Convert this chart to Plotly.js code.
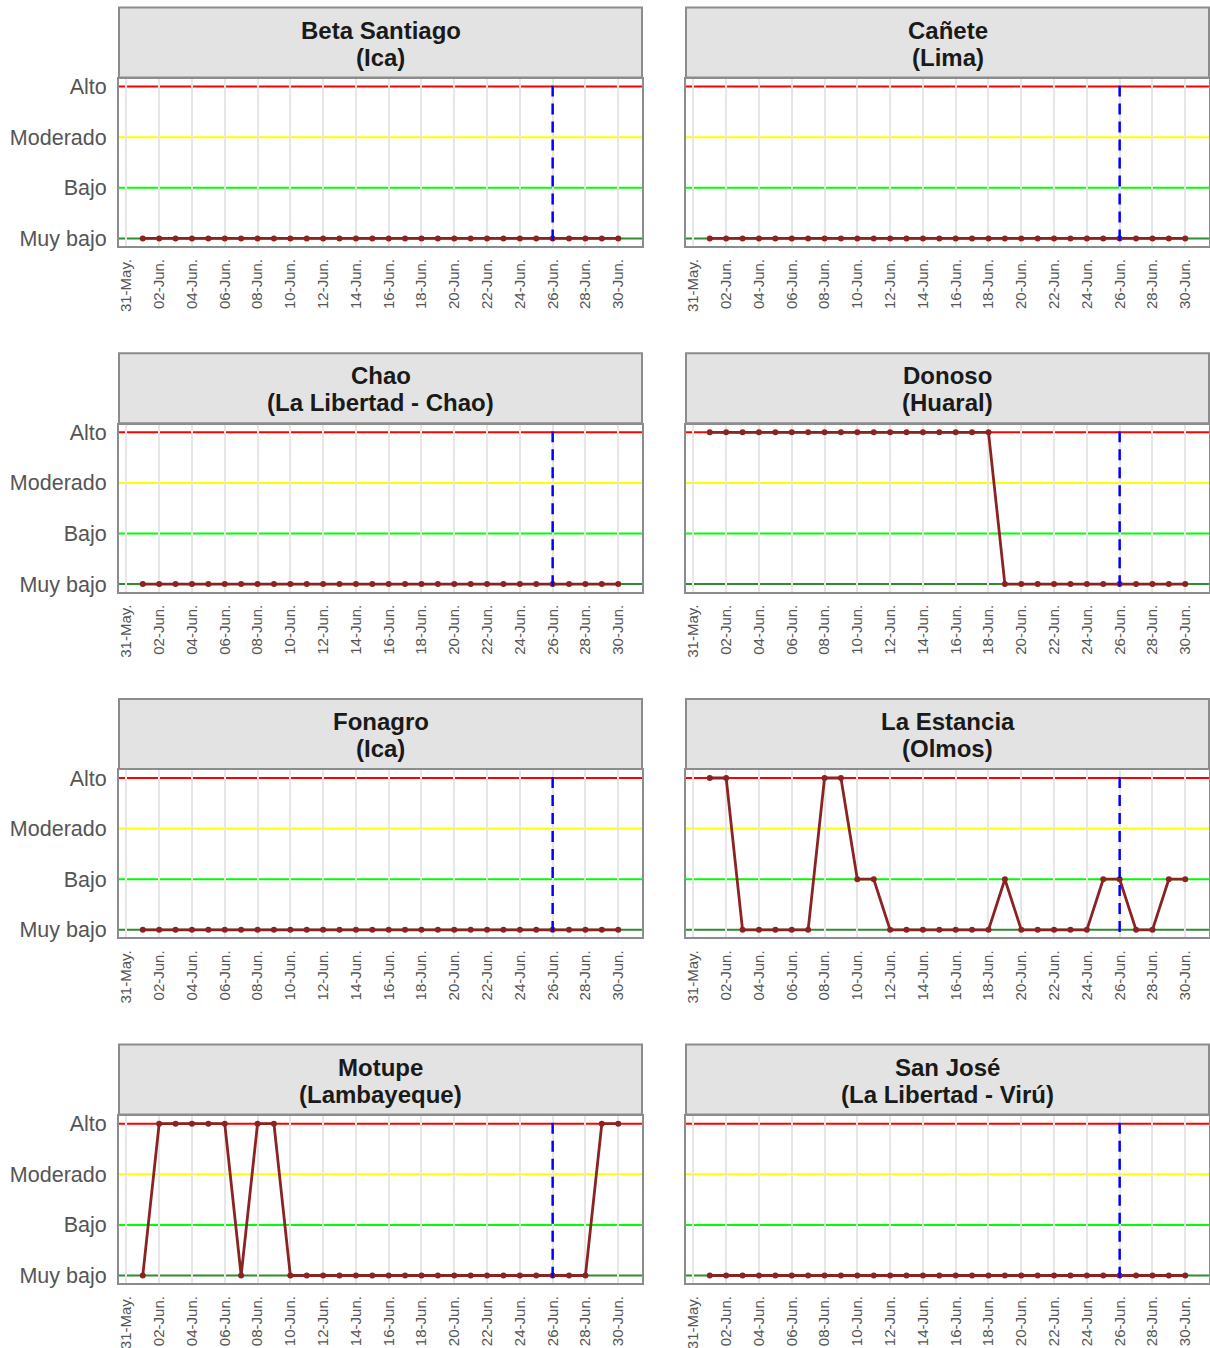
<!DOCTYPE html>
<html>
<head>
<meta charset="utf-8">
<script src="https://cdn.plot.ly/plotly-3.0.1.min.js"></script>
<style>html,body{margin:0;padding:0;background:#fff;}#chart{width:1210px;height:1348px;}</style>
</head>
<body>
<div id="chart"></div>
<script>
// ---- data ----
const dates = ['2025-06-01','2025-06-02','2025-06-03','2025-06-04','2025-06-05','2025-06-06','2025-06-07','2025-06-08','2025-06-09','2025-06-10',
  '2025-06-11','2025-06-12','2025-06-13','2025-06-14','2025-06-15','2025-06-16','2025-06-17','2025-06-18','2025-06-19','2025-06-20',
  '2025-06-21','2025-06-22','2025-06-23','2025-06-24','2025-06-25','2025-06-26','2025-06-27','2025-06-28','2025-06-29','2025-06-30'];
const levelLabels = ['Muy bajo','Bajo','Moderado','Alto'];
const levelValues = [1,2,3,4];
const tickDates = ['2025-05-31','2025-06-02','2025-06-04','2025-06-06','2025-06-08','2025-06-10','2025-06-12','2025-06-14',
  '2025-06-16','2025-06-18','2025-06-20','2025-06-22','2025-06-24','2025-06-26','2025-06-28','2025-06-30'];
const tickLabels = ['31-May.','02-Jun.','04-Jun.','06-Jun.','08-Jun.','10-Jun.','12-Jun.','14-Jun.',
  '16-Jun.','18-Jun.','20-Jun.','22-Jun.','24-Jun.','26-Jun.','28-Jun.','30-Jun.'];
const panelNames   = ['Beta Santiago','Cañete','Chao','Donoso','Fonagro','La Estancia','Motupe','San José'];
const panelRegions = ['(Ica)','(Lima)','(La Libertad - Chao)','(Huaral)','(Ica)','(Olmos)','(Lambayeque)','(La Libertad - Virú)'];
const betaSantiago = [1,1,1,1,1,1,1,1,1,1,1,1,1,1,1,1,1,1,1,1,1,1,1,1,1,1,1,1,1,1];
const canete       = [1,1,1,1,1,1,1,1,1,1,1,1,1,1,1,1,1,1,1,1,1,1,1,1,1,1,1,1,1,1];
const chao         = [1,1,1,1,1,1,1,1,1,1,1,1,1,1,1,1,1,1,1,1,1,1,1,1,1,1,1,1,1,1];
const donoso       = [4,4,4,4,4,4,4,4,4,4,4,4,4,4,4,4,4,4,1,1,1,1,1,1,1,1,1,1,1,1];
const fonagro      = [1,1,1,1,1,1,1,1,1,1,1,1,1,1,1,1,1,1,1,1,1,1,1,1,1,1,1,1,1,1];
const laEstancia   = [4,4,1,1,1,1,1,4,4,2,2,1,1,1,1,1,1,1,2,1,1,1,1,1,2,2,1,1,2,2];
const motupe       = [1,4,4,4,4,4,1,4,4,1,1,1,1,1,1,1,1,1,1,1,1,1,1,1,1,1,1,1,4,4];
const sanJose      = [1,1,1,1,1,1,1,1,1,1,1,1,1,1,1,1,1,1,1,1,1,1,1,1,1,1,1,1,1,1];
const seriesList = [betaSantiago, canete, chao, donoso, fonagro, laEstancia, motupe, sanJose];
const refDate = '2025-06-26';
const levelLineColors = ['#2E8B2E','#00FF00','#FFFF00','#FF0000'];

// ---- layout ----
const W = 1210, H = 1348;
const colX = [[119,642],[686,1209]];
const rowTop0 = 7.5, rowStep = 345.7, stripH = 71, panelH = 167;
const border = '#8C8C8C';
const fontFam = 'Liberation Sans, Arial, Helvetica, sans-serif';
const xMin = '2025-05-30 13:12', xMax = '2025-07-01 10:48';

const traces = [];
const shapes = [];
const annotations = [];
const layout = {
  width: W, height: H,
  margin: {l:0, r:0, t:0, b:0},
  paper_bgcolor: '#fff', plot_bgcolor: '#fff',
  showlegend: false,
  font: {family: fontFam}
};

for (let i = 0; i < 8; i++) {
  const row = Math.floor(i / 2), col = i % 2;
  const sTop = rowTop0 + rowStep * row;
  const pTop = sTop + stripH + 0.5;
  const pBot = pTop + panelH;
  const xd = [colX[col][0] / W, colX[col][1] / W];
  const yd = [1 - pBot / H, 1 - pTop / H];
  const n = i + 1;
  const xa = 'x' + (n === 1 ? '' : n), ya = 'y' + (n === 1 ? '' : n);
  layout['xaxis' + (n === 1 ? '' : n)] = {
    domain: xd, anchor: ya, type: 'date',
    range: [xMin, xMax],
    tickmode: 'array', tickvals: tickDates, ticktext: tickLabels,
    tickangle: -90, ticks: '', ticklabelstandoff: 5,
    tickfont: {size: 15, color: '#555555', family: fontFam},
    showgrid: true, gridcolor: '#E6E6E6', gridwidth: 2,
    showline: true, mirror: true, linecolor: border, linewidth: 2,
    zeroline: false, fixedrange: true
  };
  layout['yaxis' + (n === 1 ? '' : n)] = {
    domain: yd, anchor: xa,
    range: [0.85, 4.15],
    tickmode: 'array', tickvals: levelValues, ticktext: levelLabels,
    showticklabels: col === 0, ticks: '', ticklabelstandoff: 6,
    tickfont: {size: 21.5, color: '#555555', family: fontFam},
    showgrid: false, zeroline: false,
    showline: true, mirror: true, linecolor: border, linewidth: 2,
    fixedrange: true
  };
  // level lines
  levelValues.forEach((v, k) => {
    shapes.push({type: 'line', xref: xa, yref: ya, x0: xMin, x1: xMax, y0: v, y1: v,
      line: {color: levelLineColors[k], width: 2}, layer: 'below'});
  });
  // data
  traces.push({
    type: 'scatter', mode: 'lines+markers', x: dates, y: seriesList[i],
    xaxis: xa, yaxis: ya,
    line: {color: '#8B2323', width: 2.8},
    marker: {color: '#8B2323', size: 6},
    hoverinfo: 'skip'
  });
  // reference dashed line
  shapes.push({type: 'line', xref: xa, yref: ya, x0: refDate, x1: refDate, y0: 4.02, y1: 0.85,
    line: {color: '#0000FF', width: 2.5, dash: '11px,7px'}, layer: 'above'});
  // strip
  shapes.push({type: 'rect', xref: 'paper', yref: 'paper',
    x0: xd[0], x1: xd[1], y0: 1 - (pTop - 1.5) / H, y1: 1 - sTop / H,
    fillcolor: '#E3E3E3', line: {color: border, width: 2}, layer: 'above'});
  const cx = (xd[0] + xd[1]) / 2;
  annotations.push({xref: 'paper', yref: 'paper', x: cx, y: 1 - (sTop + 22.5) / H,
    xanchor: 'center', yanchor: 'middle', showarrow: false,
    text: '<b>' + panelNames[i] + '</b>',
    font: {size: 24, color: '#1A1A1A', family: fontFam}});
  annotations.push({xref: 'paper', yref: 'paper', x: cx, y: 1 - (sTop + 49.5) / H,
    xanchor: 'center', yanchor: 'middle', showarrow: false,
    text: '<b>' + panelRegions[i] + '</b>',
    font: {size: 24, color: '#1A1A1A', family: fontFam}});
}
layout.shapes = shapes;
layout.annotations = annotations;

Plotly.newPlot('chart', traces, layout, {displayModeBar: false, staticPlot: true});
</script>
</body>
</html>
